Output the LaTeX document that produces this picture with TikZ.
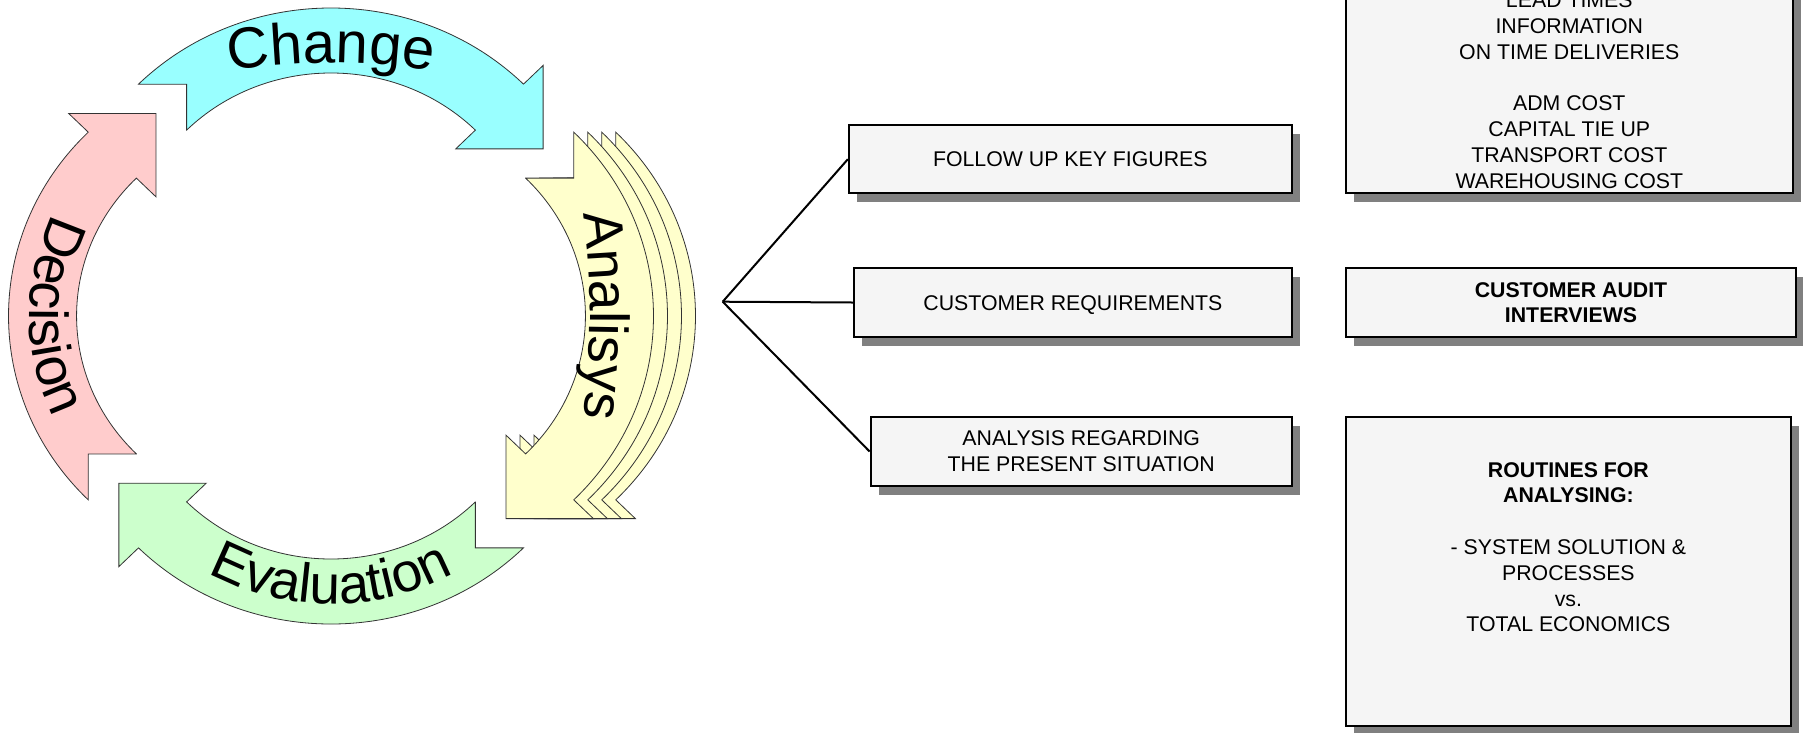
\documentclass[tikz,border=0pt]{standalone}
\usepackage{fontspec}
\setmainfont{Liberation Sans}
\newfontfamily\arialfam{Liberation Sans}
\usetikzlibrary{decorations.text,shadows}
\definecolor{cyc}{HTML}{99FFFF}
\definecolor{pnk}{HTML}{FFCCCC}
\definecolor{grn}{HTML}{CCFFCC}
\definecolor{ylw}{HTML}{FFFFCC}
\definecolor{boxfill}{HTML}{F5F5F5}
\definecolor{shadowgray}{HTML}{808080}
\newcommand\cycfont{\arialfam\fontsize{55}{60}\selectfont}
\newcommand\cycfontbig{\arialfam\fontsize{58}{62}\selectfont}
% one block arc with chevron tail and right-angle head (drawn in the frame of the left arrow)
\newcommand\cyclearrowpath[1]{%
  \path[fill=#1,draw=black!80,line width=0.8pt,line join=miter]
    (-185.89,137.89) -- (-231.85,137.89) -- (-231.85,183.85)
    arc[start angle=135,end angle=225,radius=260]
    -- (-250.59,-202.59) -- (-167.15,-202.59) -- (-167.15,-119.15)
    -- (-185.89,-137.89)
    arc[start angle=225,end angle=135,radius=195] -- cycle;}
\begin{document}
\begin{tikzpicture}[x=1pt,y=-1pt,
  box/.style={draw=black,line width=2.2pt,fill=boxfill,inner sep=0pt,
    drop shadow={shadow xshift=8pt,shadow yshift=-9pt,fill=shadowgray,opacity=1},
    font=\fontsize{21.3}{25.8}\selectfont,align=center},
  oneline/.style={text height=15.3pt,text depth=0pt},
  boxtext/.style={inner sep=0pt,font=\fontsize{21.3}{25.8}\selectfont,align=center},
  conn/.style={draw=black,line width=2pt},
  arctext/.style={decorate,decoration={text along path,text align=center,text={#1}}}
]
\useasboundingbox (0,0) rectangle (1803,732);
\clip (0,0) rectangle (1803,732);

% cycle arrows
\begin{scope}[shift={(331,316)},xscale=1.047,rotate=-90]
  \cyclearrowpath{cyc}
\end{scope}
\begin{scope}[shift={(331,316)},xscale=1.047]
  \cyclearrowpath{pnk}
\end{scope}
\begin{scope}[shift={(331,316)},xscale=1.047,rotate=90]
  \cyclearrowpath{grn}
\end{scope}
\foreach \dx in {42,28,14,0} {
  \begin{scope}[shift={(331+\dx,316)},xscale=1.047,rotate=180]
    \cyclearrowpath{ylw}
  \end{scope}
}

% arrow labels
\path[arctext={|\cycfontbig|Change}]
  ({331+650*cos(255)},{713+650*sin(255)}) arc[start angle=255,end angle=285,radius=650];
\path[arctext={|\cycfont|Analisys}]
  ({-210+800*cos(-12)},{316+800*sin(-12)}) arc[start angle=-12,end angle=12,radius=800];
\path[arctext={|\cycfont|Decision}]
  ({280.7+251.3*cos(250)},{316+240*sin(250)}) arc[start angle=250,end angle=110,x radius=251.3,y radius=240];
\path[arctext={|\cycfont|Evaluation}]
  ({331+251.3*cos(160)},{364+240*sin(160)}) arc[start angle=160,end angle=20,x radius=251.3,y radius=240];

% boxes
\node[box,oneline,minimum width=442.7pt,minimum height=68.3pt] (b1) at (1070.3,159.2) {FOLLOW UP KEY FIGURES};
\node[box,oneline,minimum width=437.7pt,minimum height=68.4pt] (b2) at (1072.9,302.5) {CUSTOMER REQUIREMENTS};
\node[box,minimum width=421pt,minimum height=68.3pt] (b3) at (1081.2,451.5) {ANALYSIS REGARDING\\THE PRESENT SITUATION};
\node[box,minimum width=446.7pt,minimum height=313.3pt] (b4) at (1569.3,36.65) {};
\node[box,minimum width=450pt,minimum height=69pt,font=\bfseries\fontsize{21.3}{25.8}\selectfont] (b5) at (1571,302.7) {CUSTOMER AUDIT\\INTERVIEWS};
\node[box,minimum width=444.7pt,minimum height=309.3pt] (b6) at (1568.4,571.4) {};
\node[boxtext,anchor=south] (t4) at (1569.3,188.5) {LEAD TIMES\\INFORMATION\\ON TIME DELIVERIES\\[25.8pt]ADM COST\\CAPITAL TIE UP\\TRANSPORT COST\\WAREHOUSING COST};
\node[boxtext,anchor=north] (t6) at (1568.4,462) {\textbf{ROUTINES FOR}\\\textbf{ANALYSING:}\\[25.8pt]- SYSTEM SOLUTION \&\\PROCESSES\\vs.\\TOTAL ECONOMICS};

% connectors
\coordinate (fork) at (722.7,301.7);
\draw[conn] (fork) -- (b1.west);
\draw[conn] (fork) -- (b2.west);
\draw[conn] (fork) -- (b3.west);
\end{tikzpicture}
\end{document}
